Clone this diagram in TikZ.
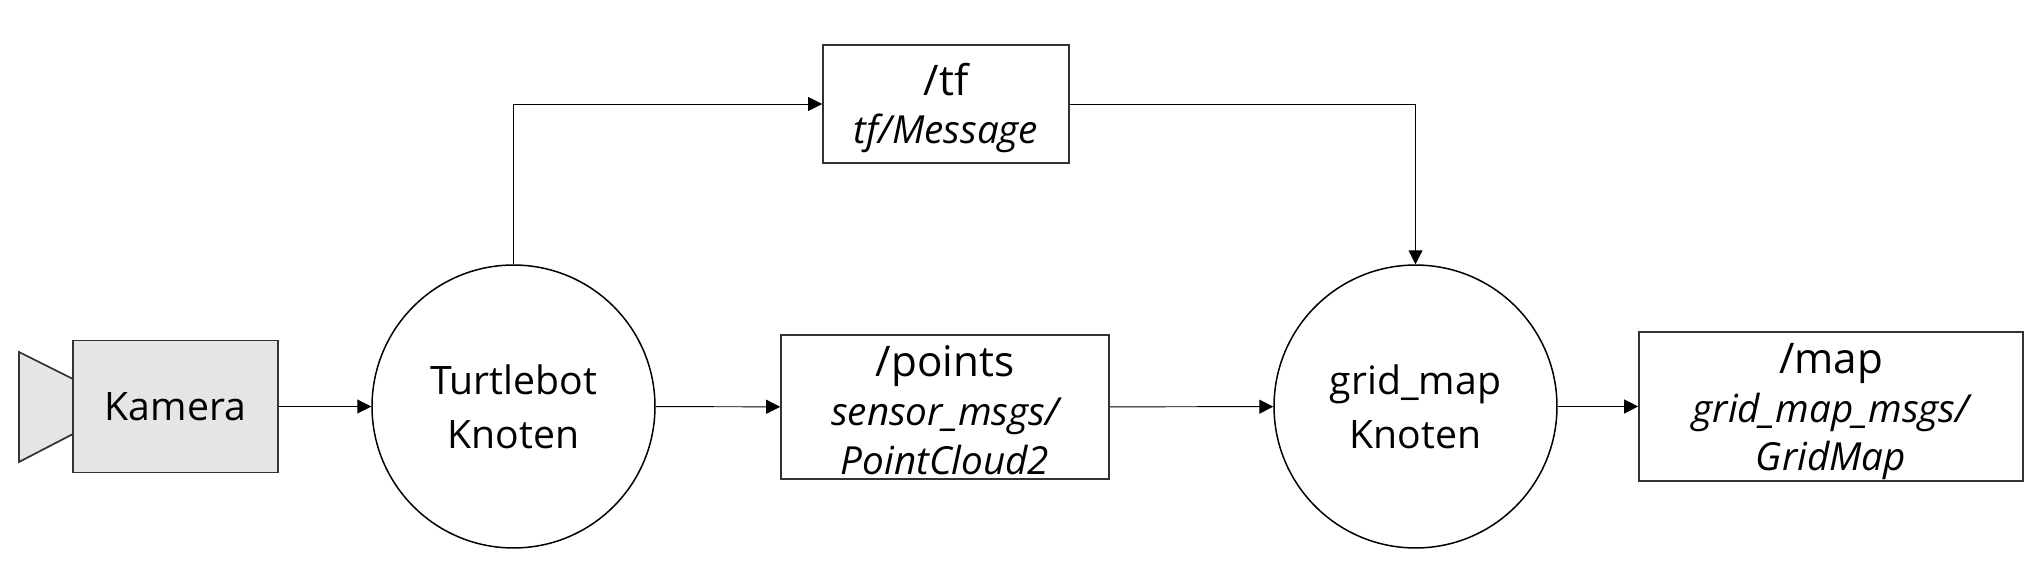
\documentclass[tikz,border=0pt]{standalone}
\usepackage{fontspec}
\setmainfont{Open Sans}
\usetikzlibrary{arrows.meta}
\begin{document}
\begin{tikzpicture}[x=0.02cm,y=-0.02cm,>={Triangle[length=0.28cm,width=0.28cm]},every node/.style={font=\fontsize{22.3}{30.6}\selectfont,align=center},knoten/.style={draw,circle,line width=0.85pt,minimum size=5.66cm,inner sep=0pt},topic/.style={draw=black!80,font=\fontsize{24}{27.8}\selectfont,line width=1pt,inner sep=0pt},pfeil/.style={->,line width=0.55pt}]
\useasboundingbox (0,0) rectangle (2042,587);
\newcommand{\msg}[1]{{\fontsize{22}{27.8}\selectfont\itshape #1}}
\draw[draw=black!80,fill=black!10,line width=1pt] (73,379)--(19,352)--(19,462)--(73,434);
\node[topic,font=\fontsize{22.3}{30.6}\selectfont,fill=black!10,minimum width=4.09cm,minimum height=2.64cm] (kamera) at (175.5,406.5) {Kamera};
\node[knoten] (bot) at (513.5,406.5) {Turtlebot\\Knoten};
\node[knoten] (grid) at (1415.5,406.5) {grid\_map\\Knoten};
\node[topic,minimum width=4.92cm,minimum height=2.36cm] (tf) at (946,104) {\rule{0pt}{23pt}/tf\\\msg{tf/Message}};
\node[topic,minimum width=6.56cm,minimum height=2.88cm] (points) at (945,407) {\rule{0pt}{21pt}/points\\\msg{sensor\_msgs/}\\\msg{PointCloud2}};
\node[topic,minimum width=7.68cm,minimum height=2.98cm] (map) at (1831,406.5) {\rule{0pt}{23pt}/map\\\msg{grid\_map\_msgs/}\\\msg{GridMap}};
\draw[pfeil] (kamera)--(bot);
\draw[pfeil] (bot)--(points);
\draw[pfeil] (points)--(grid);
\draw[pfeil] (grid)--(map);
\draw[pfeil] (bot.north)|-(tf.west);
\draw[pfeil] (tf.east)-|(grid.north);
\end{tikzpicture}
\end{document}
